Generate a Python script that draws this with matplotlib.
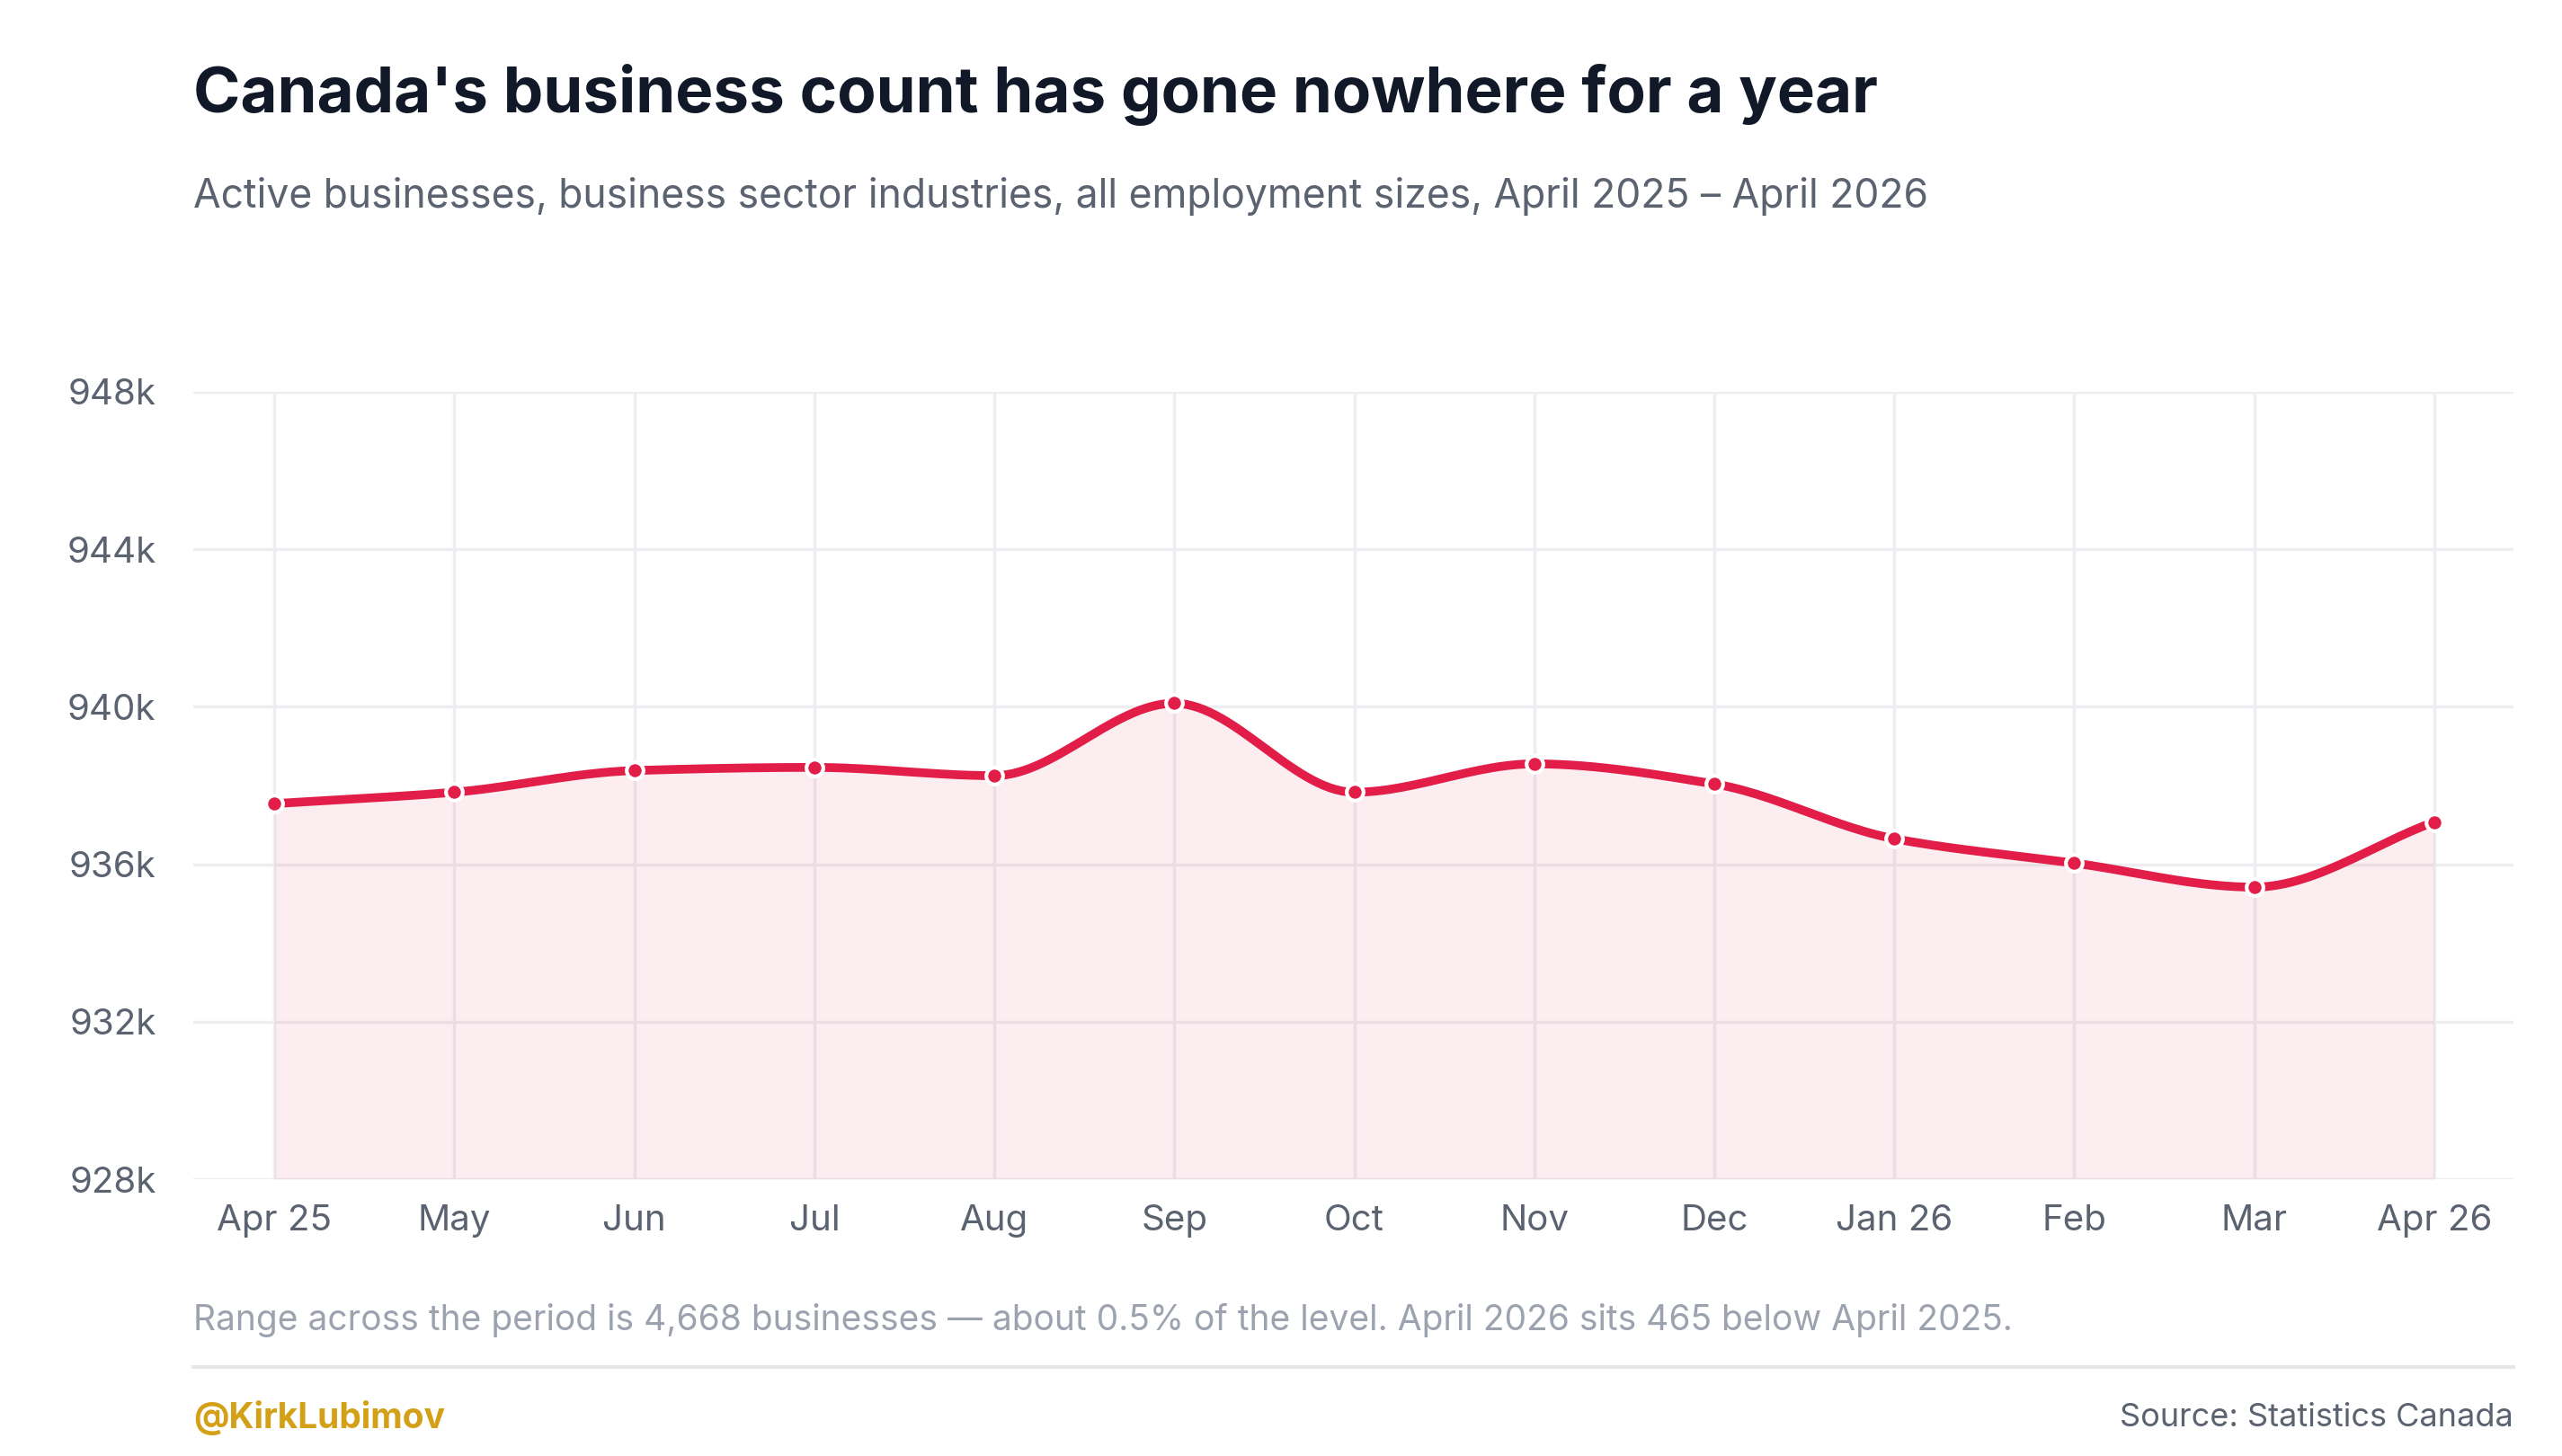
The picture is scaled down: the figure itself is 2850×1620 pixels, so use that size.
import numpy as np
import matplotlib.pyplot as plt
from matplotlib.ticker import FuncFormatter

plt.rcParams['font.family'] = ['Inter', 'DejaVu Sans']

months = ['Apr 25', 'May', 'Jun', 'Jul', 'Aug', 'Sep', 'Oct', 'Nov', 'Dec',
          'Jan 26', 'Feb', 'Mar', 'Apr 26']
counts = [937540, 937830, 938380, 938460, 938250, 940088, 937830, 938550,
          938040, 936650, 936030, 935420, 937075]
yticks = [928000, 932000, 936000, 940000, 944000, 948000]

RED = '#e11d48'


def monotone(x, y, n=30):
    # monotone cubic curve through the points (like d3 curveMonotoneX)
    x = np.asarray(x, float)
    y = np.asarray(y, float)
    h = np.diff(x)
    d = np.diff(y) / h
    m = np.zeros_like(y)
    m[0], m[-1] = d[0], d[-1]
    for i in range(1, len(y) - 1):
        if d[i - 1] * d[i] <= 0:
            m[i] = 0
        else:
            m[i] = 2 / (1 / d[i - 1] + 1 / d[i])
    xs, ys = [], []
    for i in range(len(h)):
        t = np.linspace(0, 1, n, endpoint=False)
        h00 = 2 * t**3 - 3 * t**2 + 1
        h10 = t**3 - 2 * t**2 + t
        h01 = -2 * t**3 + 3 * t**2
        h11 = t**3 - t**2
        xs.append(x[i] + t * h[i])
        ys.append(h00 * y[i] + h10 * h[i] * m[i] + h01 * y[i + 1] + h11 * h[i] * m[i + 1])
    xs.append([x[-1]])
    ys.append([y[-1]])
    return np.concatenate(xs), np.concatenate(ys)


fig = plt.figure(figsize=(28.5, 16.2), dpi=100)
ax = fig.add_axes([0.0755, 0.19, 0.9055, 0.541])

x = np.arange(len(months))
sx, sy = monotone(x, counts)
ax.fill_between(sx, sy, 928000, color=RED, alpha=0.08, lw=0)
ax.plot(sx, sy, color=RED, lw=7, solid_capstyle='round', zorder=3)
ax.scatter(x, counts, s=180, color=RED, edgecolor='white', linewidth=3, zorder=4)

ax.set_xlim(-0.45, 12.44)
ax.set_ylim(928000, 948000)
ax.set_yticks(yticks)
ax.yaxis.set_major_formatter(FuncFormatter(lambda v, p: f'{int(v / 1000)}k'))
ax.set_xticks(x)
ax.set_xticklabels(months)
ax.grid(True, color='#eceef2', lw=2.5)
ax.set_axisbelow(True)
for s in ax.spines.values():
    s.set_visible(False)
ax.tick_params(length=0, labelsize=29, colors='#5b6270', pad=20)
ax.tick_params(axis='y', pad=30)

fig.text(0.0755, 0.935, "Canada's business count has gone nowhere for a year",
         fontsize=51, fontweight='bold', color='#111827', va='center')
fig.text(0.0755, 0.865, 'Active businesses, business sector industries, all employment sizes, April 2025 \u2013 April 2026',
         fontsize=32, color='#5b6270', va='center')
fig.text(0.0755, 0.093, 'Range across the period is 4,668 businesses \u2014 about 0.5% of the level. April 2026 sits 465 below April 2025.',
         fontsize=28, color='#9ca3af', va='center')
fig.add_artist(plt.Line2D([0.0755, 0.981], [0.061, 0.061], color='#e5e7eb', lw=3))
fig.text(0.0755, 0.026, '@KirkLubimov', fontsize=28, fontweight='bold', color='#d4a017', va='center')
fig.text(0.981, 0.026, 'Source: Statistics Canada', fontsize=26, color='#5b6270', va='center', ha='right')

fig.savefig('out.png', dpi=100, facecolor='white')
